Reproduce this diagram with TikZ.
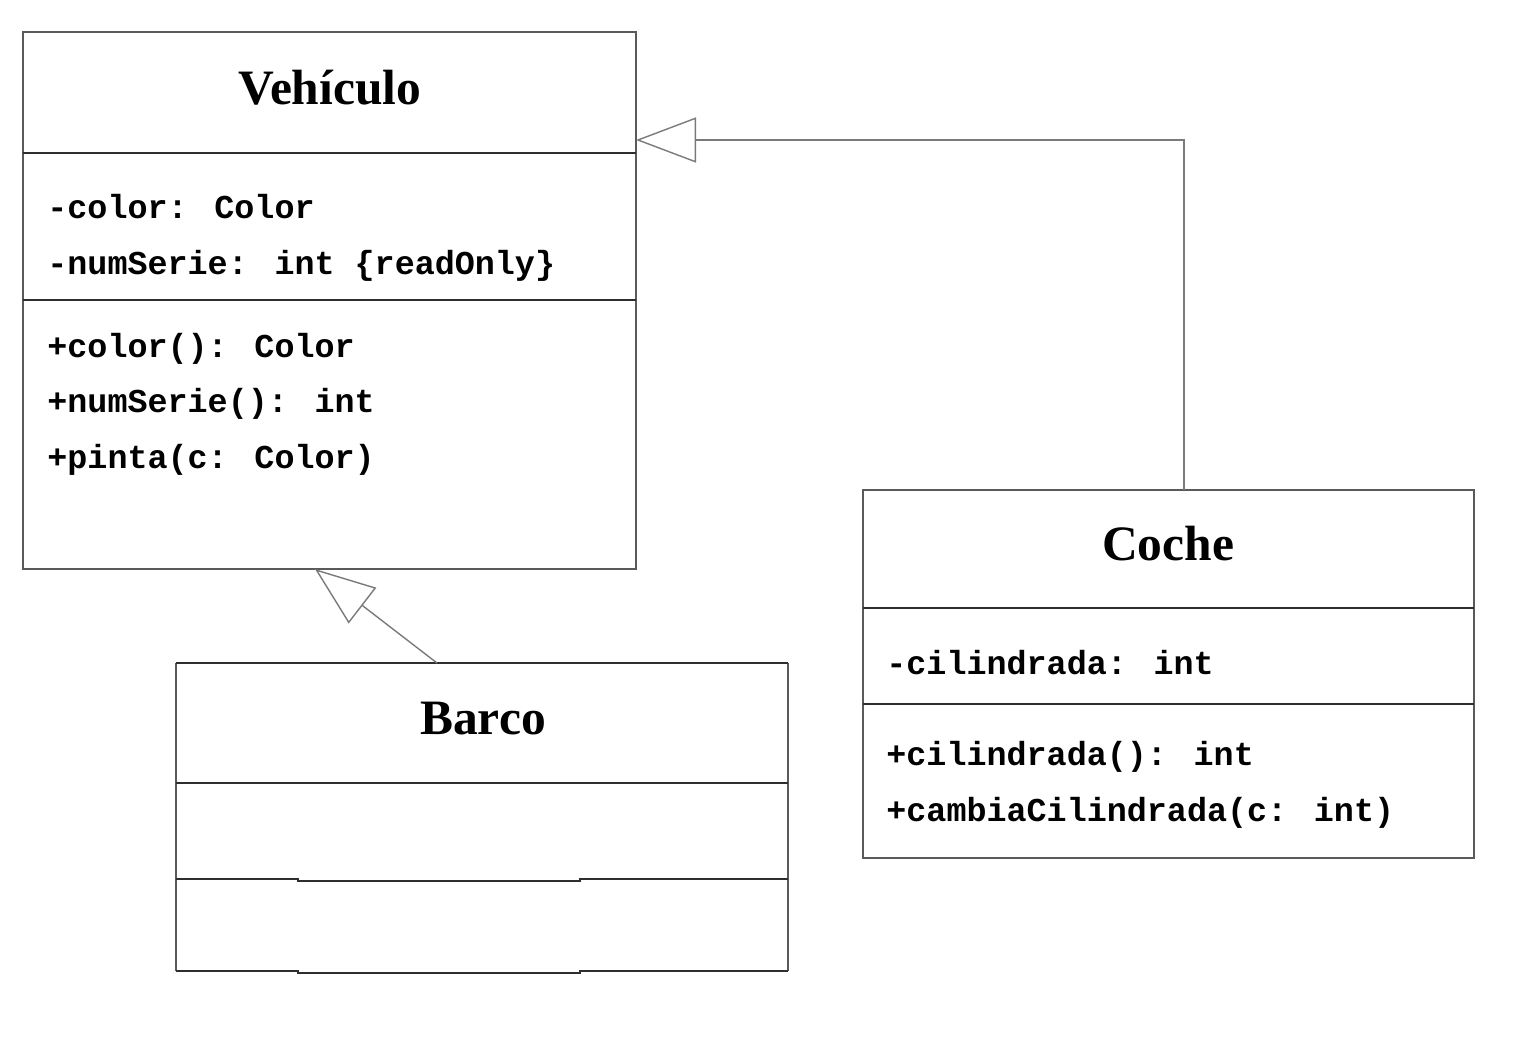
\documentclass[tikz,border=0pt]{standalone}
\usepackage{fontspec}
\setmainfont{Liberation Serif}
\newfontfamily\monob{Liberation Mono}[BoldFont=* Bold]
\usetikzlibrary{arrows.meta}
\definecolor{edgecol}{HTML}{5A5A5A}
\definecolor{divcol}{HTML}{2E2E2E}
\definecolor{conncol}{HTML}{7A7A7A}
\tikzset{
  classbox/.style={rectangle, inner sep=0pt, outer sep=0pt, line width=0.75pt, draw=edgecol},
  ttl/.style={anchor=base, inner sep=0pt, font=\fontsize{24.75pt}{28pt}\selectfont\bfseries},
  mem/.style={anchor=base west, inner sep=0pt, font=\fontsize{16.7pt}{20pt}\monob\bfseries},
  divider/.style={line width=0.75pt, draw=divcol},
  inh/.style={line width=0.7pt, draw=conncol, -{Triangle[open, length=30pt, width=22.5pt, line width=0.7pt]}}
}
\begin{document}
\begin{tikzpicture}[x=0.5pt,y=-0.5pt]
\useasboundingbox (0,0) rectangle (1517,1040);
% Vehiculo
\node[classbox, minimum width=306.5pt, minimum height=268.5pt] (veh) at (329.5,300.5) {};
\draw[divider] (23,153) -- (636,153);
\draw[divider] (23,300) -- (636,300);
\node[ttl] (vehT) at (330,104) {Vehículo};
\node[mem] (va1) at (47,218) {-color: Color};
\node[mem] (va2) at (47,274) {-numSerie: int \{readOnly\}};
\node[mem] (vm1) at (47,357) {+color(): Color};
\node[mem] (vm2) at (47,412) {+numSerie(): int};
\node[mem] (vm3) at (47,468) {+pinta(c: Color)};
% Coche
\node[classbox, minimum width=305.5pt, minimum height=184pt] (coche) at (1168.5,674) {};
\draw[divider] (863,608) -- (1474,608);
\draw[divider] (863,704) -- (1474,704);
\node[ttl] (cocheT) at (1168,560) {Coche};
\node[mem] (ca1) at (886,674) {-cilindrada: int};
\node[mem] (cm1) at (886,765) {+cilindrada(): int};
\node[mem] (cm2) at (886,821) {+cambiaCilindrada(c: int)};
% Barco
\node[rectangle, inner sep=0pt, outer sep=0pt, minimum width=306pt, minimum height=154pt] (barco) at (482,817) {};
\draw[line width=0.75pt, draw=edgecol] (barco.south west) -- (barco.north west);
\draw[line width=0.75pt, draw=edgecol] (barco.north east) -- (barco.south east);
\draw[divider] (barco.north west) -- (barco.north east);
\draw[divider] (176,783) -- (788,783);
\draw[divider] (176,879) -- (298,879) -- (298,881) -- (580,881) -- (580,879) -- (788,879);
\draw[divider] (176,971) -- (298,971) -- (298,973) -- (580,973) -- (580,971) -- (788,971);
\node[ttl] (barcoT) at (483,734) {Barco};
% Inheritance
\draw[inh] ([xshift=7.75pt]coche.north) |- ([yshift=80.25pt]veh.east);
\draw[inh] ([xshift=-22.5pt]barco.north) -- ([xshift=-7.25pt]veh.south);
\end{tikzpicture}
\end{document}
